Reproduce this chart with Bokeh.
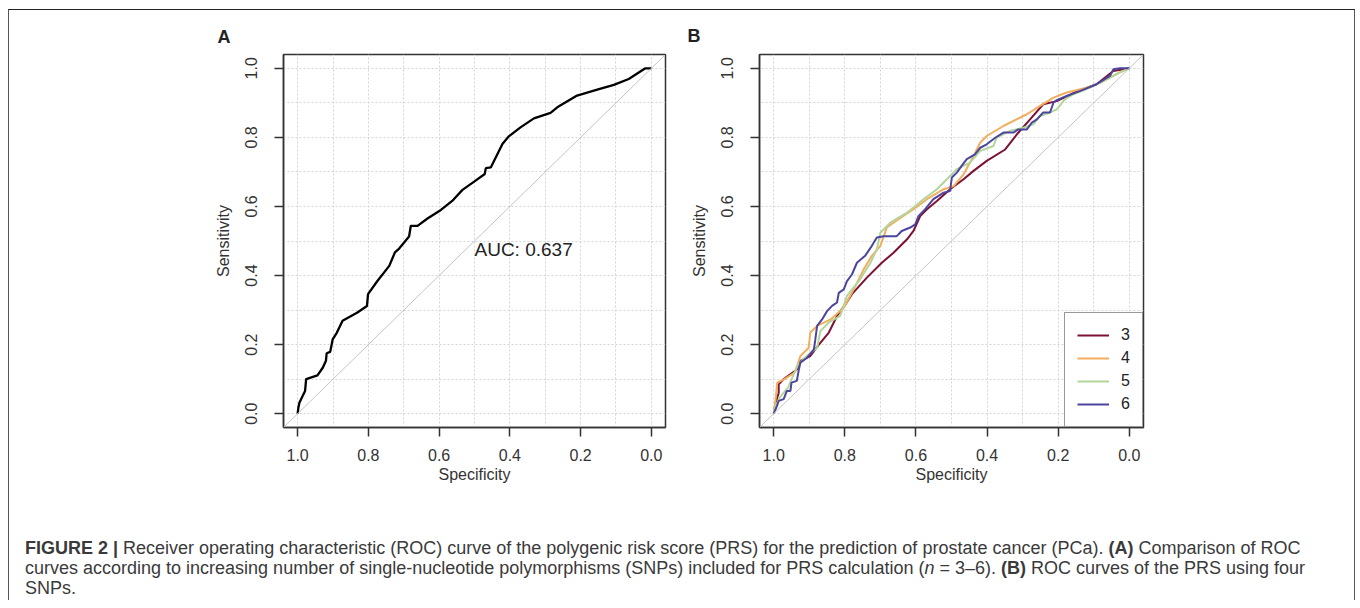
from bokeh.plotting import figure
from bokeh.models import (Range1d, FixedTicker, PrintfTickFormatter, Label,
                          Legend, LegendItem, Div, Slope)
from bokeh.layouts import row, column
from bokeh.embed import file_html
from bokeh.resources import INLINE

# ---------------- data ----------------
tick_values = [0.0, 0.2, 0.4, 0.6, 0.8, 1.0]
grid_values = [0.0, 0.1, 0.2, 0.3, 0.4, 0.5, 0.6, 0.7, 0.8, 0.9, 1.0]

# Panel A: PRS with four SNPs
spec_A = [1.0, 0.998, 0.995, 0.986, 0.979, 0.976, 0.944, 0.929, 0.92, 0.918,
          0.908, 0.901, 0.889, 0.873, 0.831, 0.804, 0.801, 0.774, 0.741, 0.725,
          0.713, 0.685, 0.680, 0.661, 0.633, 0.595, 0.563, 0.534, 0.501, 0.471,
          0.468, 0.454, 0.421, 0.403, 0.370, 0.332, 0.285, 0.266, 0.210, 0.153,
          0.106, 0.064, 0.017, 0.0]
sens_A = [0.0, 0.017, 0.032, 0.051, 0.066, 0.100, 0.111, 0.133, 0.153, 0.175,
          0.179, 0.215, 0.235, 0.269, 0.293, 0.312, 0.346, 0.385, 0.428, 0.467,
          0.478, 0.513, 0.544, 0.544, 0.565, 0.590, 0.616, 0.648, 0.672, 0.694,
          0.711, 0.713, 0.781, 0.803, 0.829, 0.855, 0.871, 0.887, 0.921, 0.938,
          0.952, 0.969, 1.0, 1.0]
auc_text = "AUC: 0.637"

# Panel B: number of SNPs 3..6
spec_3 = [1.0, 0.995, 0.986, 0.986, 0.972, 0.935, 0.925, 0.897, 0.873, 0.845,
          0.822, 0.798, 0.780, 0.738, 0.696, 0.663, 0.625, 0.607, 0.588, 0.569,
          0.541, 0.504, 0.466, 0.438, 0.401, 0.349, 0.316, 0.279, 0.242, 0.204,
          0.153, 0.092, 0.045, 0.0]
sens_3 = [0.0, 0.030, 0.060, 0.085, 0.100, 0.128, 0.153, 0.167, 0.200, 0.235,
          0.283, 0.317, 0.346, 0.394, 0.437, 0.466, 0.505, 0.529, 0.572, 0.592,
          0.616, 0.650, 0.679, 0.703, 0.732, 0.765, 0.809, 0.852, 0.896, 0.905,
          0.930, 0.954, 0.992, 1.0]

spec_4 = [1.0, 0.995, 0.99, 0.97, 0.94, 0.925, 0.902, 0.897, 0.878, 0.840,
          0.803, 0.775, 0.747, 0.724, 0.700, 0.682, 0.649, 0.607, 0.569, 0.522,
          0.494, 0.466, 0.438, 0.419, 0.401, 0.354, 0.288, 0.251, 0.213, 0.176,
          0.120, 0.082, 0.026, 0.0]
sens_4 = [0.0, 0.040, 0.090, 0.100, 0.120, 0.167, 0.190, 0.235, 0.254, 0.273,
          0.307, 0.360, 0.418, 0.457, 0.486, 0.539, 0.563, 0.592, 0.621, 0.650,
          0.659, 0.693, 0.746, 0.785, 0.804, 0.833, 0.867, 0.891, 0.915, 0.930,
          0.944, 0.958, 0.989, 1.0]

spec_5 = [1.0, 0.995, 0.981, 0.96, 0.934, 0.915, 0.892, 0.878, 0.869, 0.845,
          0.813, 0.794, 0.757, 0.728, 0.710, 0.700, 0.672, 0.625, 0.579, 0.541,
          0.513, 0.485, 0.448, 0.419, 0.382, 0.373, 0.335, 0.298, 0.270, 0.251,
          0.223, 0.204, 0.181, 0.157, 0.110, 0.064, 0.026, 0.0]
sens_5 = [0.0, 0.022, 0.050, 0.075, 0.138, 0.160, 0.180, 0.190, 0.239, 0.264,
          0.283, 0.341, 0.389, 0.437, 0.476, 0.524, 0.553, 0.582, 0.621, 0.650,
          0.679, 0.708, 0.727, 0.761, 0.775, 0.799, 0.819, 0.828, 0.838, 0.862,
          0.872, 0.881, 0.910, 0.925, 0.944, 0.968, 0.988, 1.0]

spec_6 = [1.0, 0.991, 0.986, 0.972, 0.963, 0.953, 0.950, 0.935, 0.930, 0.925,
          0.906, 0.887, 0.883, 0.878, 0.864, 0.850, 0.836, 0.822, 0.817, 0.803,
          0.794, 0.780, 0.766, 0.743, 0.724, 0.710, 0.691, 0.654, 0.640, 0.616,
          0.602, 0.593, 0.574, 0.551, 0.522, 0.504, 0.499, 0.485, 0.471, 0.457,
          0.434, 0.419, 0.401, 0.377, 0.354, 0.326, 0.312, 0.288, 0.274, 0.260,
          0.242, 0.223, 0.213, 0.204, 0.176, 0.139, 0.092, 0.054, 0.045, 0.026,
          0.0]
sens_6 = [0.0, 0.022, 0.037, 0.042, 0.066, 0.066, 0.090, 0.095, 0.124, 0.148,
          0.162, 0.186, 0.215, 0.254, 0.273, 0.297, 0.312, 0.322, 0.350, 0.360,
          0.384, 0.403, 0.437, 0.457, 0.486, 0.510, 0.514, 0.514, 0.529, 0.539,
          0.548, 0.572, 0.592, 0.621, 0.640, 0.645, 0.684, 0.698, 0.718, 0.737,
          0.751, 0.770, 0.780, 0.799, 0.814, 0.814, 0.823, 0.823, 0.843, 0.852,
          0.872, 0.872, 0.901, 0.908, 0.920, 0.934, 0.954, 0.978, 0.997, 1.0,
          1.0]

series_B = [("3", spec_3, sens_3, "#7d1234"),
            ("4", spec_4, sens_4, "#f3ad5e"),
            ("5", spec_5, sens_5, "#b2d69a"),
            ("6", spec_6, sens_6, "#4c459f")]

caption_html = (
    "<b>FIGURE 2 |</b> Receiver operating characteristic (ROC) curve of the polygenic risk "
    "score (PRS) for the prediction of prostate cancer (PCa). <b>(A)</b> Comparison of ROC<br>"
    "curves according to increasing number of single-nucleotide polymorphisms (SNPs) included "
    "for PRS calculation (<i>n</i> = 3&ndash;6). <b>(B)</b> ROC curves of the PRS using four<br>"
    "SNPs."
)

FONT = "Liberation Sans"
AX = "#333333"


def make_panel(letter, letter_offset, letter_standoff, border_left, border_right,
               border_top, border_bottom, fw):
    p = figure(frame_width=fw, frame_height=373,
               min_border_left=border_left, min_border_right=border_right,
               min_border_top=border_top, min_border_bottom=border_bottom,
               x_range=Range1d(1.04, -0.04), y_range=Range1d(-0.04, 1.04),
               output_backend="svg", toolbar_location=None,
               x_axis_label="Specificity", y_axis_label="Sensitivity")
    p.title.text = letter
    p.title.align = "left"
    p.title.offset = letter_offset
    p.title.standoff = letter_standoff
    p.title.text_font = FONT
    p.title.text_font_size = "18px"
    p.title.text_font_style = "bold"
    p.title.text_color = "#222222"
    p.background_fill_color = "white"
    p.border_fill_color = "white"
    p.outline_line_color = AX
    p.outline_line_width = 1.5
    for ax in (p.xaxis[0], p.yaxis[0]):
        ax.ticker = FixedTicker(ticks=tick_values)
        ax.formatter = PrintfTickFormatter(format="%.1f")
        ax.major_tick_in = 0
        ax.major_tick_out = 9
        ax.minor_tick_line_color = None
        ax.axis_line_color = AX
        ax.axis_line_width = 1.5
        ax.major_tick_line_color = AX
        ax.major_tick_line_width = 1.5
        ax.major_label_text_font = FONT
        ax.major_label_text_font_size = "16px"
        ax.major_label_text_color = "#333333"
        ax.axis_label_text_font = FONT
        ax.axis_label_text_font_size = "16px"
        ax.axis_label_text_font_style = "normal"
        ax.axis_label_text_color = "#333333"
    p.xaxis.major_label_standoff = 12
    p.xaxis.axis_label_standoff = 2
    p.yaxis.major_label_orientation = "vertical"
    p.yaxis.major_label_standoff = 17
    p.yaxis.axis_label_standoff = 11
    for g in (p.xgrid[0], p.ygrid[0]):
        g.ticker = FixedTicker(ticks=grid_values)
        g.grid_line_color = "#d4d4d4"
        g.grid_line_dash = "2 2"
        g.grid_line_width = 1
    p.add_layout(Slope(gradient=-1, y_intercept=1, line_color="#c4c4c4", line_width=1))
    return p


pA = make_panel("A", -66, 16, 274, 10, 44, 74, 382)
pA.line(spec_A, sens_A, line_color="black", line_width=2.3)
pA.add_layout(Label(x=0.5, y=0.476, text=auc_text, text_font=FONT, text_font_size="19px",
                    text_align="left", text_baseline="middle", text_color="#222222"))

pB = make_panel("B", -72, 17, 84, 209, 42, 76, 384)
items = []
for name, sx, sy, col in series_B:
    r = pB.line(sx, sy, line_color=col, line_width=2)
    items.append(LegendItem(label=name, renderers=[r]))
leg = Legend(items=items, location="bottom_right", margin=0, padding=12, spacing=3,
             glyph_width=32, glyph_height=20, label_standoff=12, label_width=9,
             label_height=20, border_line_color=AX, border_line_width=1.5,
             label_text_font=FONT, label_text_font_size="16px",
             label_text_color="#222222", background_fill_alpha=1.0)
pB.add_layout(leg)

cap = Div(text='<div style="padding:32px 0 0 11px; font-family:\'Liberation Sans\'; '
               'font-size:18px; line-height:20px; color:#3a3a3a; white-space:nowrap;">'
               + caption_html + '</div>',
          width=1343, height=89)

layout = column(row(pA, pB), cap, width=1347, sizing_mode="fixed",
                styles={"margin": "9px 0 0 8px", "width": "1347px",
                        "box-sizing": "border-box",
                        "border-top": "1px solid #222", "border-left": "1px solid #555",
                        "border-right": "1px solid #555"})

open("out.html", "w").write(file_html(layout, INLINE))
